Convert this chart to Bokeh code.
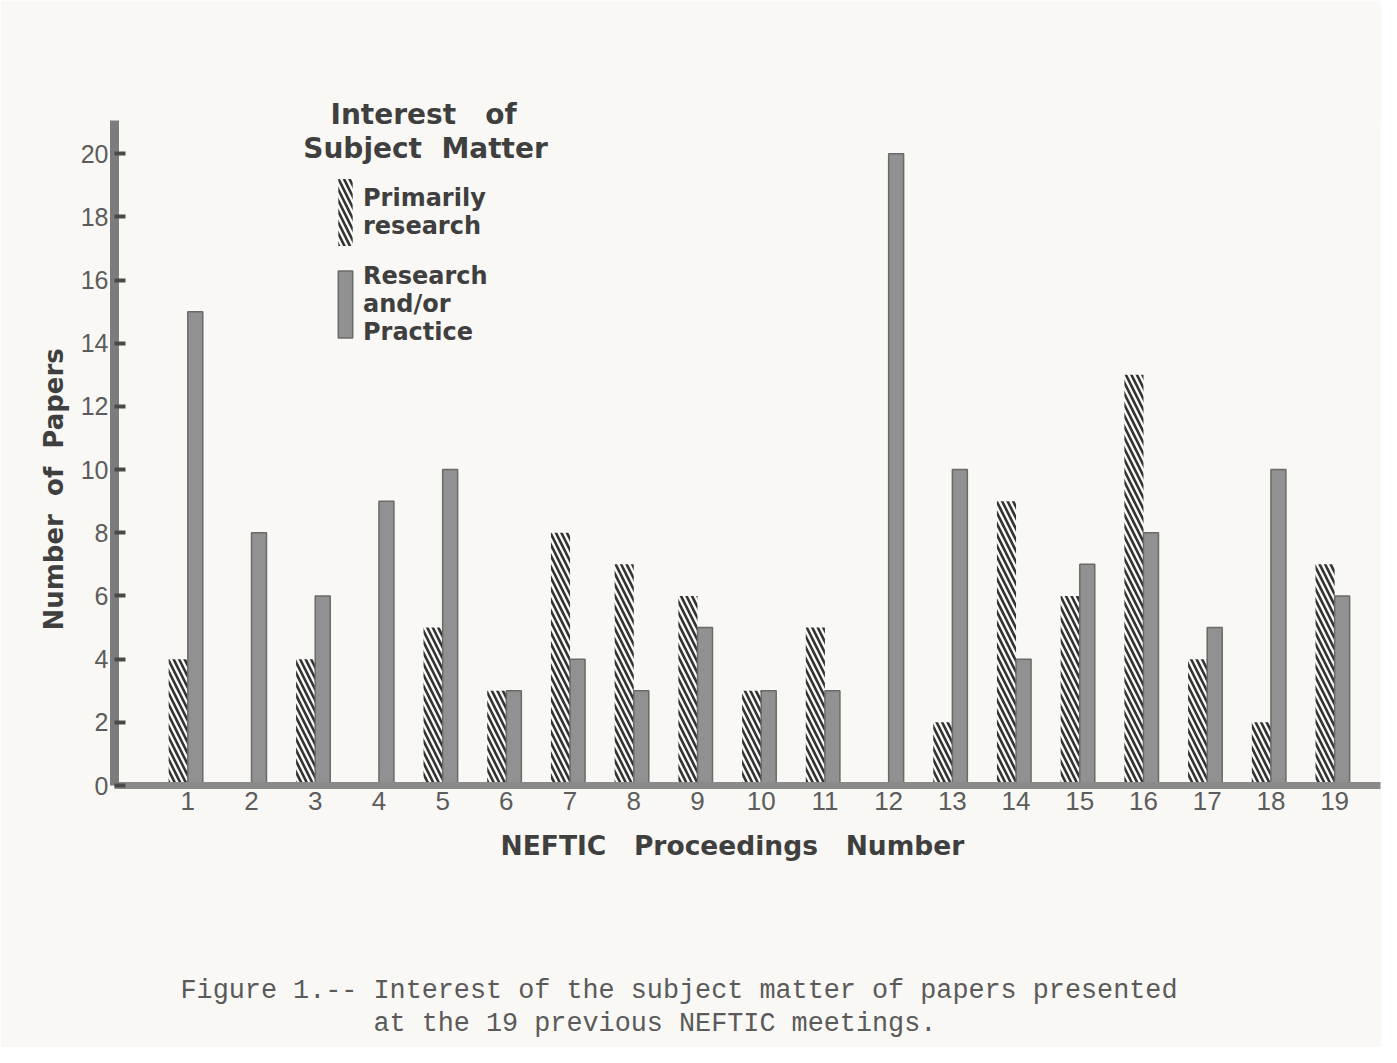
from bokeh.plotting import figure
from bokeh.models import (ColumnDataSource, FixedTicker, Label, Legend, LegendItem, Title)
from bokeh.transform import dodge
from bokeh.embed import file_html
from bokeh.resources import INLINE

NBSP = "\u00a0"

# ---- data ----
proceedings = [1, 2, 3, 4, 5, 6, 7, 8, 9, 10, 11, 12, 13, 14, 15, 16, 17, 18, 19]
primarily_research = [4, 0, 4, 0, 5, 3, 8, 7, 6, 3, 5, 0, 2, 9, 6, 13, 4, 2, 7]
research_or_practice = [15, 8, 6, 9, 10, 3, 4, 3, 5, 3, 3, 20, 10, 4, 7, 8, 5, 10, 6]
y_ticks = [0, 2, 4, 6, 8, 10, 12, 14, 16, 18, 20]

legend_title = ["Interest" + NBSP * 3 + "of", "Subject" + NBSP * 2 + "Matter"]
series_labels = ["Primarily\nresearch", "Research\nand/or\nPractice"]
x_title = "NEFTIC" + NBSP * 3 + "Proceedings" + NBSP * 3 + "Number"
y_title = "Number" + NBSP * 2 + "of" + NBSP * 2 + "Papers"
caption = ["Figure 1.-- Interest of the subject matter of papers presented",
           "at the 19 previous NEFTIC meetings."]

source = ColumnDataSource(dict(x=proceedings, r=primarily_research, p=research_or_practice))

PAPER = "#f9f8f5"
INK = "#5c5c5c"
HEAD = "DejaVu Sans"
HEAD_INK = "#3f3f3f"

p = figure(width=1381, height=1047, output_backend="svg", toolbar_location=None,
           x_range=(-0.15, 19.72), y_range=(0, 21.05),
           background_fill_color=PAPER, border_fill_color=PAPER,
           min_border_left=114, min_border_right=1, min_border_top=120, min_border_bottom=262)
p.outline_line_color = None
p.grid.visible = False

r1 = p.vbar(x=dodge("x", -0.15, range=p.x_range), top="r", width=0.3, bottom=0, source=source,
            fill_color="#fbfbf9", line_color=None,
            hatch_pattern="\\", hatch_color="#333333", hatch_scale=11, hatch_weight=2.6)
r2 = p.vbar(x=dodge("x", 0.118, range=p.x_range), top="p", width=0.235, bottom=0, source=source,
            fill_color="#919191", line_color="#6a6a6a", line_width=1.5)

# axes
xa = p.xaxis[0]
xa.ticker = FixedTicker(ticks=proceedings)
xa.axis_line_width = 7
xa.axis_line_color = "#8a8a8a"
xa.major_tick_line_color = None
xa.minor_tick_line_color = None
xa.major_label_text_font = "Liberation Sans"
xa.major_label_text_font_size = "26px"
xa.major_label_text_color = INK
xa.major_label_standoff = 0

ya = p.yaxis[0]
ya.ticker = FixedTicker(ticks=y_ticks)
ya.axis_line_width = 9
ya.axis_line_color = "#7c7c7c"
ya.major_tick_in = 11
ya.major_tick_out = 0
ya.major_tick_line_width = 4
ya.major_tick_line_color = "#4a4a4a"
ya.minor_tick_line_color = None
ya.major_label_text_font = "Liberation Sans"
ya.major_label_text_font_size = "25px"
ya.major_label_text_color = INK
ya.major_label_standoff = 6

# legend (glyphs are drawn at 80% of the glyph box)
legend = Legend(items=[LegendItem(label=series_labels[0], renderers=[r1]),
                       LegendItem(label=series_labels[1], renderers=[r2])],
                location=(222, 439), orientation="vertical",
                glyph_width=18, glyph_height=84, label_standoff=9, spacing=8,
                padding=0, margin=0, border_line_color=None, background_fill_alpha=0,
                label_text_font=HEAD, label_text_font_style="bold",
                label_text_font_size="24px", label_text_color=HEAD_INK,
                label_text_line_height=1.04)
p.add_layout(legend, "center")

# legend heading: first line above the frame, second inside it
p.add_layout(Title(text=legend_title[0], align="left", offset=216, standoff=-20,
                   text_font=HEAD, text_font_style="bold", text_font_size="28px",
                   text_color=HEAD_INK), "above")
p.add_layout(Label(x=311, y=637, x_units="screen", y_units="screen", text=legend_title[1],
                   text_font=HEAD, text_font_style="bold", text_font_size="28px",
                   text_color=HEAD_INK, text_align="center", text_baseline="middle"))

# axis titles
p.add_layout(Title(text=y_title, align="left", offset=155, standoff=18,
                   text_font=HEAD, text_font_style="bold", text_font_size="26px",
                   text_color=HEAD_INK), "left")
p.add_layout(Title(text=x_title, align="left", offset=386, standoff=30,
                   text_font=HEAD, text_font_style="bold", text_font_size="26.5px",
                   text_color=HEAD_INK), "below")
# spacer between the axis title and the caption
p.add_layout(Title(text=NBSP, standoff=95, text_font_size="1px", text_color=PAPER), "below")
# caption (typewriter), second line indented with no-break spaces
p.add_layout(Title(text=caption[0] + "\n" + NBSP * 12 + caption[1], align="left", offset=66,
                   standoff=0, text_font="Liberation Mono", text_font_style="normal",
                   text_font_size="26.8px", text_line_height=1.1,
                   text_color="#5a5a5a"), "below")

open("out.html", "w").write(file_html(p, INLINE))
